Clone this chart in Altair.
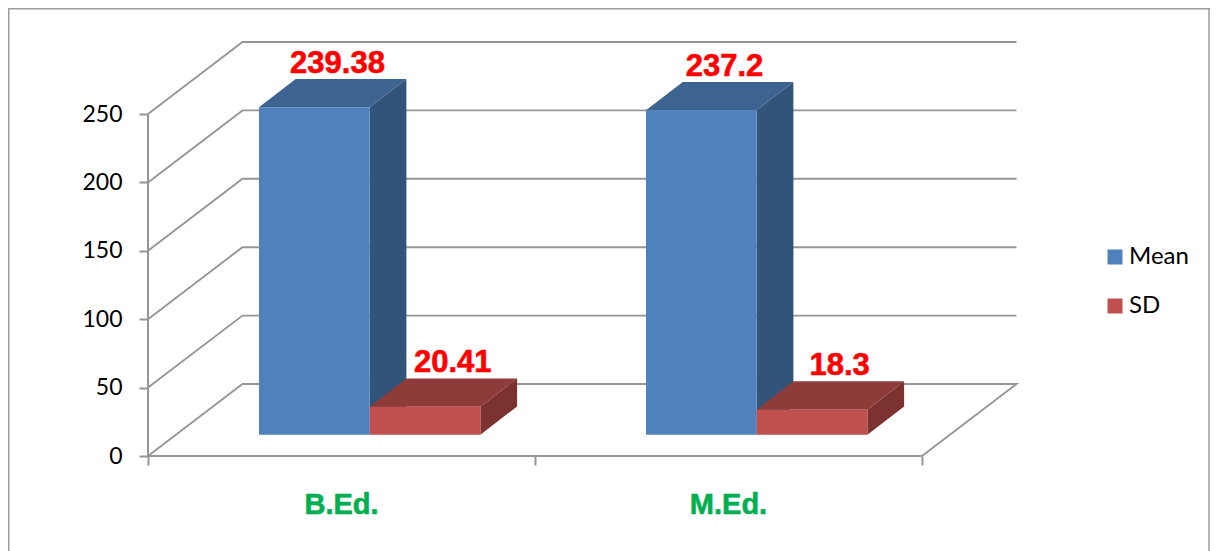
import altair as alt
import pandas as pd

categories = ["B.Ed.", "M.Ed."]
series = ["Mean", "SD"]
mean_values = [239.38, 237.2]
sd_values = [20.41, 18.3]
mean_labels = ["239.38", "237.2"]
sd_labels = ["20.41", "18.3"]
y_ticks = [0, 50, 100, 150, 200, 250]
x_ticks = [0, 1, 2]

FRONT = {"Mean": "#4f81bd", "SD": "#c0504d"}
TOP = {"Mean": "#3d6390", "SD": "#8e3c3a"}
SIDE = {"Mean": "#325479", "SD": "#7b3230"}
GRID = "#969696"
FRAME = "#9c9c9c"

# Plot box in pixels and data-to-pixel ratios
W, H = 869, 414
PX_X = 387.0      # px per category
PX_Y = 1.368      # px per value unit
X_MAX = W / PX_X
Y_MAX = H / PX_Y

# Oblique projection of the chart's depth axis, in data units
WALL_DX = 94.5 / PX_X
WALL_DY = 72 / PX_Y
BAR_OFF_X = 111 / PX_X   # first bar's left edge inside a category
BAR_W = 110.7 / PX_X
BAR_BASE = 21.3 / PX_Y
BAR_DX = 36.7 / PX_X
BAR_DY = 28.3 / PX_Y
LABEL_SHIFT = {"Mean": 78.5 / PX_X, "SD": 83 / PX_X}

# Walls and floor
wall = []
for v in y_ticks:
    if v == 0:
        pts = [(2, 0), (2 + WALL_DX, WALL_DY), (WALL_DX, WALL_DY), (0, 0)]
    else:
        pts = [(0, v), (WALL_DX, v + WALL_DY), (2 + WALL_DX, v + WALL_DY)]
    for i, (x, y) in enumerate(pts):
        wall.append({"level": v, "i": i, "x": x, "y": y})
wall_df = pd.DataFrame(wall)

axis_lines = pd.DataFrame([
    {"n": "x", "i": 0, "x": 0, "y": 0},
    {"n": "x", "i": 1, "x": 2, "y": 0},
    {"n": "y", "i": 0, "x": 0, "y": 0},
    {"n": "y", "i": 1, "x": 0, "y": 250},
])

# Bars
fronts, side_rows, top_rows, labels = [], [], [], []
for s_i, (s, vals, labs) in enumerate(zip(series, [mean_values, sd_values], [mean_labels, sd_labels])):
    for c_i, (c, v, lab) in enumerate(zip(categories, vals, labs)):
        xl = c_i + BAR_OFF_X + s_i * BAR_W
        xr = xl + BAR_W
        yb = BAR_BASE
        yt = BAR_BASE + v
        fronts.append({"series": s, "x": xl, "x2": xr, "y": yb, "y2": yt})
        side_rows.append({"series": s, "cat": c, "x": xr, "lo": yb, "hi": yt})
        side_rows.append({"series": s, "cat": c, "x": xr + BAR_DX, "lo": yb + BAR_DY, "hi": yt + BAR_DY})
        top_rows.append({"series": s, "cat": c, "x": xl, "lo": yt, "hi": yt})
        top_rows.append({"series": s, "cat": c, "x": xl + BAR_DX, "lo": yt, "hi": yt + BAR_DY})
        top_rows.append({"series": s, "cat": c, "x": xr, "lo": yt, "hi": yt + BAR_DY})
        top_rows.append({"series": s, "cat": c, "x": xr + BAR_DX, "lo": yt + BAR_DY, "hi": yt + BAR_DY})
        labels.append({"text": lab, "x": xl + LABEL_SHIFT[s], "y": yt + BAR_DY})
fronts_df = pd.DataFrame(fronts)
side_df = pd.DataFrame(side_rows)
top_df = pd.DataFrame(top_rows)
labels_df = pd.DataFrame(labels)
cat_df = pd.DataFrame({"cat": categories, "x": [i + 0.5 for i in range(len(categories))]})

xs = alt.Scale(domain=[0, X_MAX], nice=False, zero=False)
ys = alt.Scale(domain=[0, Y_MAX], nice=False, zero=False)
x_axis = alt.Axis(values=x_ticks, labels=False, title=None, domain=False, grid=False,
                  tickSize=9, tickWidth=2, tickColor=GRID)
y_axis = alt.Axis(values=y_ticks, title=None, domain=False, grid=False, tickSize=9, tickWidth=2,
                  tickColor=GRID, labelFont="Lato", labelFontSize=23, labelColor="#000000",
                  labelPadding=17)


def X(field="x:Q"):
    return alt.X(field, scale=xs, axis=x_axis, title=None)


def Y(field="y:Q"):
    return alt.Y(field, scale=ys, axis=y_axis, title=None)


base_axes = alt.Chart(axis_lines).mark_line(color=GRID, strokeWidth=2).encode(
    x=X(), y=Y(), detail="n:N", order="i:Q",
)
walls = alt.Chart(wall_df).mark_line(color=GRID, strokeWidth=1.9).encode(
    x=X(), y=Y(), detail="level:N", order="i:Q",
)


def face_layer(df, s, colour):
    layers = []
    for c in categories:
        sub = df[(df["series"] == s) & (df["cat"] == c)]
        layers.append(
            alt.Chart(sub).mark_area(color=colour, opacity=1).encode(
                x=X(),
                y=alt.Y("lo:Q", scale=ys, axis=y_axis, title=None),
                y2=alt.Y2("hi:Q"),
            )
        )
    return layers


rects = alt.Chart(fronts_df).mark_rect().encode(
    x=X(),
    x2="x2:Q",
    y=Y(),
    y2="y2:Q",
    color=alt.Color(
        "series:N",
        scale=alt.Scale(domain=series, range=[FRONT[s] for s in series]),
        legend=alt.Legend(
            title=None, orient="none", legendX=955, legendY=203, symbolType="square",
            symbolSize=225, symbolStrokeWidth=0, labelFont="Lato", labelFontSize=24,
            labelColor="#000000", labelOffset=2, rowPadding=25, padding=0,
        ),
    ),
)
value_text = alt.Chart(labels_df).mark_text(
    font="Liberation Sans", fontWeight="bold", fontSize=31, color="#ff0000",
    stroke="#ff0000", strokeWidth=0.6,
    baseline="alphabetic", align="center", dy=-6,
).encode(x=X(), y=Y(), text="text:N")
cat_text = alt.Chart(cat_df).mark_text(
    font="Liberation Sans", fontWeight="bold", fontSize=29, color="#00b050",
    stroke="#00b050", strokeWidth=0.6,
    baseline="alphabetic", align="center",
).encode(x=X(), y=alt.value(472), text="cat:N")

frame_df = pd.DataFrame({"a": [0]})
frame_left = alt.Chart(frame_df).mark_rule(color=FRAME, strokeWidth=2).encode(
    x=alt.value(-139.5), y=alt.value(-34), y2=alt.value(509))
frame_top = alt.Chart(frame_df).mark_rule(color=FRAME, strokeWidth=2).encode(
    x=alt.value(-140), x2=alt.value(1062), y=alt.value(-33.5))
frame_right = alt.Chart(frame_df).mark_rule(color=FRAME, strokeWidth=1.5).encode(
    x=alt.value(1061), y=alt.value(-34), y2=alt.value(509))

chart = alt.layer(
    frame_left, frame_top, frame_right, walls, base_axes,
    *face_layer(side_df, "Mean", SIDE["Mean"]), *face_layer(top_df, "Mean", TOP["Mean"]),
    *face_layer(side_df, "SD", SIDE["SD"]), *face_layer(top_df, "SD", TOP["SD"]),
    rects, value_text, cat_text,
).properties(
    width=W, height=H, background="white",
    autosize=alt.AutoSizeParams(type="none"),
    padding={"left": 140, "top": 34, "right": 193, "bottom": 95},
).configure_view(stroke=None)

chart.save("out.html", embed_options={"renderer": "svg", "actions": False})
